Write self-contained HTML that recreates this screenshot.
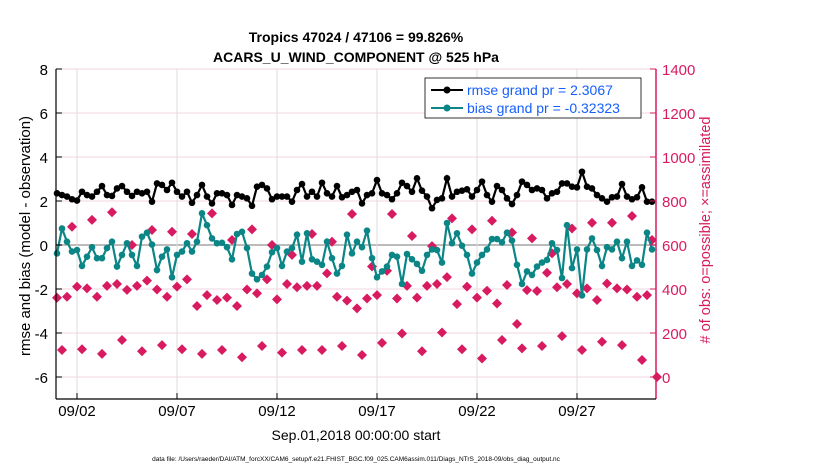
<!DOCTYPE html>
<html><head><meta charset="utf-8"><style>
body{margin:0;background:#fff;}
svg text{font-family:"Liberation Sans",sans-serif;}
</style></head><body>
<svg id="chart" width="830" height="470" xmlns="http://www.w3.org/2000/svg">
<rect width="830" height="470" fill="#fff"/>
<g id="grid"></g>
<g id="series"></g>
<g id="axes"></g>
<text x="356" y="42" text-anchor="middle" font-size="14" font-weight="bold">Tropics 47024 / 47106 = 99.826%</text>
<text x="356" y="62" text-anchor="middle" font-size="14" font-weight="bold">ACARS_U_WIND_COMPONENT @ 525 hPa</text>
<text transform="translate(30,236) rotate(-90)" text-anchor="middle" font-size="15">rmse and bias (model - observation)</text>
<text transform="translate(710,230) rotate(-90)" text-anchor="middle" font-size="14.5" fill="#d81b60"># of obs: o=possible; ×=assimilated</text>
<text x="356" y="440" text-anchor="middle" font-size="14">Sep.01,2018 00:00:00 start</text>
<text x="356" y="461" text-anchor="middle" font-size="6.5">data file: /Users/raeder/DAI/ATM_forcXX/CAM6_setup/f.e21.FHIST_BGC.f09_025.CAM6assim.011/Diags_NTrS_2018-09/obs_diag_output.nc</text>
<g>
<rect x="425" y="78" width="216" height="40" fill="#fff" stroke="#000" stroke-width="0.8"/>
<line x1="431" y1="90" x2="463" y2="90" stroke="#000" stroke-width="2"/><circle cx="447" cy="90" r="3.5" fill="#000"/>
<text x="467" y="95" font-size="14" fill="#1560ff">rmse grand pr = 2.3067</text>
<line x1="431" y1="108" x2="463" y2="108" stroke="#0b8585" stroke-width="2"/><circle cx="447" cy="108" r="3.5" fill="#0b8585"/>
<text x="467" y="113" font-size="14" fill="#1560ff">bias grand pr = -0.32323</text>
</g>
</svg>
<script>
const rmse=[2.35,2.27,2.2,2.08,2.02,2.42,2.27,2.2,2.42,2.68,2.27,2.23,2.57,2.68,2.42,2.23,2.42,2.35,2.42,1.97,2.8,2.73,2.5,2.83,2.42,2.2,2.42,1.92,2.27,2.73,2.2,
1.89,2.35,2.35,2.27,1.82,2.27,2.2,2.12,1.78,2.65,2.73,2.57,2.08,2.2,2.2,2.2,1.97,2.5,2.77,2.2,2.42,2.2,2.83,2.35,2.2,2.68,2.17,2.27,2.42,2.5,
1.89,2.27,2.35,2.95,2.35,2.27,2.08,2.35,2.83,2.68,2.42,3.03,2.47,2.2,1.67,2.05,2.12,3.03,2.2,2.42,2.47,2.53,2.2,2.5,2.88,2.27,1.97,2.68,2.5,2.12,
1.86,2.27,2.88,2.73,2.5,2.57,2.5,2.12,2.35,2.42,2.8,2.8,2.65,2.62,3.33,2.65,2.57,2.27,2.12,1.97,2.17,2.2,2.77,2.2,2.08,2.17,2.62,1.97,1.97];
const bias=[-0.38,0.75,0.15,-0.3,-0.23,-0.95,-0.53,-0.1,-0.6,-0.6,-0.14,0.15,-0.98,-0.45,0.08,-0.45,-0.95,0.38,0.56,0.02,-1.14,-0.53,-0.2,-1.47,-0.45,-0.3,0.08,-0.3,0.15,1.44,0.9,
0.3,0.08,0.1,-0.1,-0.65,0.5,0.6,-0.14,-1.3,-1.56,-1.36,-0.98,-0.33,-0.14,-0.95,-0.3,-0.14,0.47,-0.76,0.53,-0.65,-0.76,-0.9,0.15,-0.6,-1.3,-0.95,0.47,-0.38,0.15,
-0.1,0.65,-0.6,-1.47,-1.2,-0.98,-0.45,-0.53,-1.77,-0.41,-0.65,-0.86,-1.17,-0.45,-0.2,-0.23,-0.8,1.0,0.08,0.53,-0.03,-0.45,-1.3,-0.8,-0.45,-0.2,0.27,0.27,0.12,0.56,
0.2,-0.9,-1.77,-1.2,-1.36,-0.98,-0.8,-0.68,0.08,-0.23,-1.5,0.9,-1.05,-0.2,-2.29,-0.2,0.3,-0.23,-0.95,-0.1,-0.2,0.15,-0.6,0.15,-0.95,-0.7,-0.9,0.56,-0.2];
const obsCount=[360,123,365,683,411,126,403,714,365,105,414,749,423,168,396,600,414,117,438,668,398,145,365,660,411,126,444,650,323,105,372,744,
350,123,361,623,323,90,398,671,380,141,444,600,353,111,423,555,408,123,414,650,414,123,471,615,365,141,347,741,312,
100,357,502,372,155,483,741,357,198,414,641,361,117,414,595,423,202,454,721,331,126,411,671,361,84,392,710,334,168,418,657,
241,130,395,630,391,141,474,562,408,186,423,675,380,123,403,701,350,160,425,701,403,145,398,732,365,77,372,623,0];
const leftTicks=[8,6,4,2,0,-2,-4,-6];
const rightTicks=[1400,1200,1000,800,600,400,200,0];
const dateTicks=[1,6,11,16,21,26];
const dateLabels=["09/02","09/07","09/12","09/17","09/22","09/27"];
const stepDays=0.25;

const NS="http://www.w3.org/2000/svg";
const X0=56,X1=656,Y0=69,Y1=399;
const xs=d=>57+20*d;
const ys=v=>245-22*v;
const yr=c=>377-c*0.22;
function mk(tag,attrs,parent){const e=document.createElementNS(NS,tag);for(const k in attrs)e.setAttribute(k,attrs[k]);parent.appendChild(e);return e;}
const grid=document.getElementById('grid'),ser=document.getElementById('series'),ax=document.getElementById('axes');

leftTicks.forEach(v=>{
  const g=mk('line',{x1:X0,x2:X1,y1:ys(v),y2:ys(v),stroke:v===0?'#bbbbbb':'#f0d6e0','stroke-width':v===0?2:1},grid);
  
  
  const t=mk('text',{x:X0-8,y:ys(v)+6,'text-anchor':'end','font-size':15},ax);t.textContent=v;
  
  
  mk('line',{x1:X0,x2:X0+6,y1:ys(v),y2:ys(v),stroke:'#000'},ax);
});
rightTicks.forEach(c=>{
  const t=mk('text',{x:X1+6,y:yr(c)+6,'font-size':15,fill:'#d81b60'},ax);t.textContent=c;
  
  
  mk('line',{x1:X1-6,x2:X1,y1:yr(c),y2:yr(c),stroke:'#d81b60'},ax);
});
dateTicks.forEach((d,i)=>{
  const g=mk('line',{x1:xs(d),x2:xs(d),y1:Y0,y2:Y1,stroke:'#dddddd'},grid);
  
  
  mk('line',{x1:xs(d),x2:xs(d),y1:Y1-6,y2:Y1,stroke:'#000'},ax);
  const t=mk('text',{x:xs(d),y:Y1+17,'text-anchor':'middle','font-size':15},ax);t.textContent=dateLabels[i];
  
  
});
const la=mk('line',{x1:X0,x2:X0,y1:Y0,y2:Y1,stroke:'#000','stroke-width':1.2},ax);


const ra=mk('line',{x1:X1,x2:X1,y1:Y0,y2:Y1,stroke:'#d81b60','stroke-width':1.5},ax);


const ba=mk('line',{x1:X0,x2:X1,y1:Y1,y2:Y1,stroke:'#000','stroke-width':1.2},ax);



obsCount.forEach((c,i)=>{
  const x=xs(i*stepDays),y=yr(c);
  const p=mk('polygon',{points:`${x},${y-5} ${x+5},${y} ${x},${y+5} ${x-5},${y}`,fill:'#d81b60'},ser);
  
  
});
function drawLine(arr,color,name){
  const pl=mk('polyline',{points:arr.map((v,i)=>xs(i*stepDays)+','+ys(v)).join(' '),fill:'none',stroke:color,'stroke-width':2.2},ser);
  
  
  arr.forEach((v,i)=>{
    const c=mk('circle',{cx:xs(i*stepDays),cy:ys(v),r:3.3,fill:color},ser);
    
    
  });
}
drawLine(bias,'#0b8585','bias');
drawLine(rmse,'#000000','rmse');
</script>
</body></html>
